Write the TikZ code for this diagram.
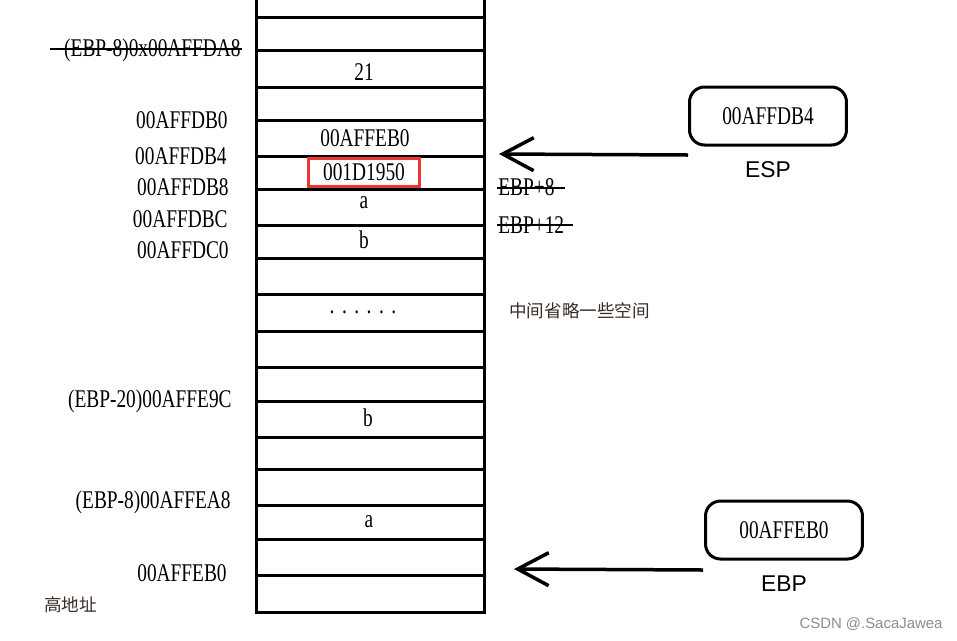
\documentclass[tikz,border=0pt]{standalone}
\usepackage{fontspec}
\setmainfont{Liberation Serif}
\newfontfamily\addrfont[FakeStretch=0.76]{Liberation Serif}
\newfontfamily\cjkfont{Noto Sans CJK SC}
\newfontfamily\labfont{Liberation Sans}
\usetikzlibrary{arrows.meta,calc}
\definecolor{boxred}{RGB}{238,52,52}
\definecolor{note}{RGB}{55,45,40}

\tikzset{
	addr/.style={font=\addrfont\fontsize{14.5}{14.5}\selectfont, inner sep=0pt},
	cell/.style={line width=0.06cm},
	regbox/.style={draw, line width=0.06cm, rounded corners=0.3cm, minimum width=3.14cm, minimum height=1.16cm, addr},
	reglabel/.style={font=\labfont\fontsize{13}{13}\selectfont, inner sep=0pt},
	ptr/.style={line width=0.07cm, -{Straight Barb[length=0.62cm, width=0.66cm]}},
	strike/.style={line width=0.03cm},
}

\begin{document}
\begin{tikzpicture}[x=0.02cm, y=-0.02cm]
		%%%%% START %%%%%
		\useasboundingbox (0, 0) rectangle (957, 640);
		
		% stack
		\draw[cell] (256, 0) -- (256, 612) -- (484, 612) -- (484, 0);
		\foreach \y in {17, 50, 87, 120, 156, 189, 225, 258, 294, 331, 367, 401, 437, 469, 505, 539, 575}
			\draw[cell] (256, \y) -- (484, \y);
		
		% cell contents
		\node[addr] (c21) at (364, 72) {21};
		\node[addr] (cold) at (365, 138) {00AFFEB0};
		\node[addr, draw=boxred, line width=0.06cm, minimum width=2.24cm, minimum height=0.56cm] (cret) at (364, 172) {001D1950};
		\node[addr] (ca) at (364, 203) {a};
		\node[addr] (cb) at (364, 240) {b};
		\node[addr] (cdots) at (363, 312) {.\kern0.15cm.\kern0.15cm.\kern0.15cm.\kern0.15cm.\kern0.15cm.};
		\node[addr] (cb2) at (368, 418) {b};
		\node[addr] (ca2) at (369, 522) {a};
		
		% addresses
		\node[addr, anchor=east] (adda8) at (241, 50) {(EBP-8)0x00AFFDA8};
		\draw[strike] ($(adda8.west)+(-14, -1)$) -- ($(adda8.east)+(1, -1)$);
		\node[addr, anchor=east] (addb0) at (228, 120) {00AFFDB0};
		\node[addr, anchor=east] (addb4) at (227, 156) {00AFFDB4};
		\node[addr, anchor=east] (addb8) at (229, 187) {00AFFDB8};
		\node[addr, anchor=east] (addbc) at (228, 219) {00AFFDBC};
		\node[addr, anchor=east] (addc0) at (229, 250) {00AFFDC0};
		\node[addr, anchor=east] (adde9c) at (232, 401) {(EBP-20)00AFFE9C};
		\node[addr, anchor=east] (addea8) at (231, 502) {(EBP-8)00AFFEA8};
		\node[addr, anchor=east] (addeb0) at (227, 573) {00AFFEB0};
		\node[font=\cjkfont\fontsize{10}{10}\selectfont, text=note, inner sep=0pt, anchor=west] (high) at (44, 605) {高地址};
		
		% old offsets
		\node[addr, anchor=west] (ebp8) at (498, 187) {EBP+8};
		\draw[strike] ($(ebp8.west)+(-1, 1)$) -- ($(ebp8.east)+(10, 1)$);
		\node[addr, anchor=west] (ebp12) at (498, 225) {EBP+12};
		\draw[strike] ($(ebp12.west)+(-1, 0)$) -- ($(ebp12.east)+(9, 0)$);
		\node[font=\cjkfont\fontsize{10}{10}\selectfont, text=note, inner sep=0pt, anchor=west] (skip) at (509, 311) {中间省略一些空间};
		
		% ESP
		\node[regbox] (espbox) at (768, 116) {00AFFDB4};
		\node[reglabel] (esp) at (768, 170) {ESP};
		\coordinate (esptail) at (688, 155);
		\coordinate (esphead) at (499, 154);
		\draw[ptr] (esptail) -- (esphead);
		
		% EBP
		\node[regbox] (ebpbox) at (784, 530) {00AFFEB0};
		\node[reglabel] (ebp) at (784, 584) {EBP};
		\coordinate (ebptail) at (703, 570);
		\coordinate (ebphead) at (514, 569);
		\draw[ptr] (ebptail) -- (ebphead);
		
		\node[font=\labfont\fontsize{8.5}{8.5}\selectfont, text=black!45, inner sep=0pt] (mark) at (871, 624) {CSDN @.SacaJawea};
		%%%%% END %%%%%
	\end{tikzpicture}
\end{document}
